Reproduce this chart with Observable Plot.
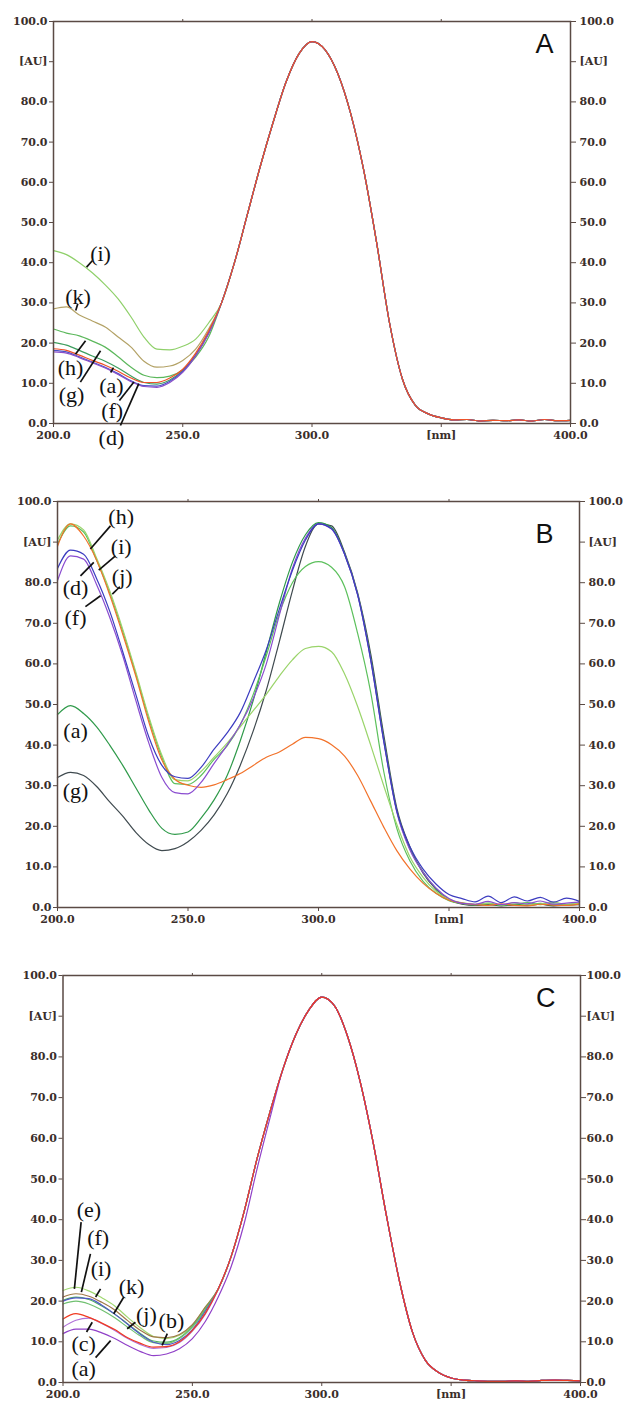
<!DOCTYPE html>
<html><head><meta charset="utf-8">
<script src="https://cdn.jsdelivr.net/npm/d3@7"></script>
<script src="https://cdn.jsdelivr.net/npm/@observablehq/plot@0.6"></script>
<style>
body{margin:0;background:#fff;}
#wrap{position:relative;width:625px;height:1405px;overflow:hidden;background:#fff;}
.panel{position:absolute;left:0;}
</style></head><body><div id="wrap"></div>
<script>
// ---------- shared axes ----------
const wavelengths = [200,205,210,215,220,225,230,235,240,245,250,255,260,265,270,275,280,285,290,295,300,305,310,315,320,325,330,335,340,345,350,355,360,365,370,375,380,385,390,395,400];
const yTicks = [0,10,20,30,40,50,60,70,80,90,100];
const xTicks = [200,250,300,350,400];
const topTicks = [250,300,350];

// ---------- Panel A (heads 200-260, shared peak 265-400) ----------
const A_peak = [30,40,52,64,75,85,92,95,93,87,77,63,45,25,11,4.5,2.4,1.4,0.9,1.0,0.6,0.8,0.7,0.9,0.6,1.0,0.7,0.8];
const A_i = [43,42,40,37.5,34.5,31,26.5,21.5,18.5,18.3,19.2,21,25];
const A_k = [28.5,29,27,25.5,24,21.5,19,15.5,14,14.3,15.7,18.5,23.5];
const A_h = [23.5,22.5,21.8,20.5,19,16.6,14,12,11.4,11.8,13.3,16.5,21.5];
const A_g = [20.2,19.5,18.2,16.8,15.5,13.8,11.8,10.2,9.8,10.8,13.2,17,22.5];
const A_a = [18.6,18.2,17,15.7,14.5,13,11.3,10.2,10.2,11.3,13.5,17.5,23];
const A_f = [18.2,17.8,16.6,15.3,14,12.4,10.6,9.4,9.3,10.5,13,17,22.5];
const A_d = [17.8,17.5,16.4,15.1,13.8,12.2,10.4,9.2,9.0,10.2,12.7,16.8,22.3];

// ---------- Panel B (full spectra 200-400) ----------
const B_h = [89,94.5,91.5,85.5,77,67.3,57,45.7,36.3,31.6,30.1,29.6,30.2,31.5,33,35,37,38.3,40.2,41.9,41.6,40.1,37.3,32.5,26.2,19.8,14,9.5,6,3.5,1.8,1.1,0.7,0.5,0.9,0.5,0.4,0.8,0.6,0.5,0.9];
const B_i = [90.5,94.5,93,86,78,68.5,58,47,37.5,31.5,31.2,33.5,37,40.5,44.5,48.5,52.5,57,61,63.8,64.3,63,57.5,49.5,40,30,20.5,12.5,7.5,4,2,1.2,0.8,1.0,0.6,1.2,0.7,0.9,1.3,0.8,1.0];
const B_j = [89.5,94,92.5,85.5,77.5,68,57.5,46.5,37,30.5,30.3,32.5,36.5,39.8,45,52.5,62,72.5,80,84,85.2,83.8,79,67.5,53,33.5,19.5,11.5,6.5,3.5,1.7,1.0,0.7,1.1,0.6,0.8,1.2,0.7,0.9,0.6,0.8];
const B_d = [83.5,88,87,81,73,63,52.5,42,35,32.2,31.8,34.5,39,43,48,55.5,63.5,73.5,83,90.5,94.5,93.3,87,77,61,41,23.8,15,9.5,5.8,3.2,2.2,1.4,2.8,1.2,2.6,1.6,2.5,1.3,2.3,1.5];
const B_f = [80.5,86.6,85.8,79.5,71.5,62,51,40.5,32,28.3,28,30.8,35.5,40,45,51.5,60,72,83.5,91,94.5,93.2,87,77,61,41,23.5,14.2,8.7,4.8,2.2,1.0,0.8,1.5,0.7,1.2,0.9,1.6,0.8,1.1,1.3];
const B_a = [47.5,49.7,47.8,44.5,40,35,29.5,24,19.5,18,18.6,22,26.5,32.5,41,51,63,75,85,91.8,94.8,93.6,87.2,77.2,61.5,41.5,23.8,14.5,8.8,4.6,1.8,1.0,0.6,0.9,0.5,0.8,0.6,1.0,0.5,0.7,0.9];
const B_g = [32,33.3,32.5,29.8,26,22.5,18.5,15.5,14,14.5,16.2,19,22.8,28,35,43.5,53.5,65.5,78,89,94.5,94,87.5,77.5,62.5,42.5,24.5,15,8.5,4.5,2,0.8,0.5,0.7,0.4,0.6,0.5,0.8,0.4,0.6,0.7];

// ---------- Panel C (heads 200-255, shared peak 260-400) ----------
const C_peak = [23,31,42,55,66.5,77,85.5,91.5,94.7,92.5,85,73.5,58.5,41,25,12.5,5.5,2.5,1.1,0.6,0.4,0.3,0.3,0.4,0.3,0.5,0.6,0.5,0.4];
const C_e = [22.6,23.4,22.5,20.8,18.8,16,13.4,11.3,10.8,11.6,14,18.5];
const C_f = [21,21.8,21.2,19.7,17.8,15.2,12.8,11.2,11,11.8,14.2,18.5];
const C_i = [20.2,21,20.4,18.8,16.8,14.4,12,10.2,9.9,11,13.8,18];
const C_k = [19.3,20,19.3,17.8,15.9,13.6,11.4,9.8,9.6,10.8,13.6,17.8];
const C_j = [20,20.8,20.6,19,16.8,14.3,11.8,9.9,9.3,10.3,13,17.5];
const C_b = [15.6,16.9,16,14.6,13,11,9.6,8.7,8.8,10,12.8,17];
const C_c = [13.6,15.3,15.8,14.5,12.8,10.8,9.3,8.4,8.6,9.8,12.6,16.8];
const C_a = [12,13.1,13.1,12.2,10.8,9.1,7.6,6.6,7,8.3,10.8,15,21,28.5,39,52.5,65];

// ---------- annotations (data units) ----------
const notesA = [
  {label:"(i)", nm:218.2, v:42.3},{label:"(k)", nm:209.5, v:31.4},{label:"(h)", nm:206.6, v:13.7},
  {label:"(g)", nm:207.0, v:7.0},{label:"(a)", nm:222.4, v:9.4},{label:"(f)", nm:222.7, v:3.0},{label:"(d)", nm:222.4, v:-3.5}];
const leadersA = [
  {x1:215.0,y1:40.5,x2:212.8,y2:38.9},{x1:209.4,y1:29.8,x2:208.6,y2:28.1},{x1:208.5,y1:17.2,x2:212.4,y2:20.6},
  {x1:210.4,y1:10.3,x2:218.2,y2:18.1},{x1:222.1,y1:12.7,x2:223.2,y2:13.9},{x1:225.5,y1:5.7,x2:231.1,y2:10.3},
  {x1:225.9,y1:-0.5,x2:233.0,y2:9.9}];
const notesB = [
  {label:"(h)", nm:224.4, v:96.1},{label:"(i)", nm:224.4, v:88.7},{label:"(j)", nm:224.8, v:81.3},
  {label:"(d)", nm:206.9, v:78.8},{label:"(f)", nm:206.9, v:71.4},{label:"(a)", nm:206.9, v:43.6},{label:"(g)", nm:206.9, v:28.8}];
const leadersB = [
  {x1:220.3,y1:94.0,x2:212.6,y2:88.3},{x1:222.2,y1:86.6,x2:215.8,y2:83.1},{x1:223.9,y1:79.0,x2:221.0,y2:77.2},
  {x1:208.8,y1:81.7,x2:213.9,y2:85.0},{x1:210.7,y1:74.1,x2:216.5,y2:76.8}];
const notesC = [
  {label:"(e)", nm:210.0, v:42.3},{label:"(f)", nm:213.6, v:35.4},{label:"(i)", nm:214.7, v:28.0},
  {label:"(k)", nm:226.5, v:23.4},{label:"(j)", nm:232.2, v:16.5},{label:"(b)", nm:241.9, v:15.2},
  {label:"(c)", nm:208.0, v:9.5},{label:"(a)", nm:208.0, v:3.4}];
const leadersC = [
  {x1:207.0,y1:39.4,x2:204.4,y2:23.0},{x1:210.6,y1:31.6,x2:207.1,y2:22.2},{x1:214.5,y1:23.0,x2:212.6,y2:21.0},
  {x1:223.5,y1:21.0,x2:219.6,y2:16.9},{x1:228.0,y1:14.8,x2:224.8,y2:13.2},{x1:240.3,y1:12.0,x2:238.3,y2:9.1},
  {x1:209.1,y1:12.4,x2:211.3,y2:14.8},{x1:212.6,y1:6.1,x2:218.4,y2:10.3}];

// ---------- styles ----------
const frameColor = "#5a4a44";
const textColor = "#3a2e2a";
const colorsA = {i:"#8fd06a", k:"#b3a266", h:"#5cb85c", g:"#3e9e5e", f:"#4a52c8", d:"#8a4fc8", a:"#ee5228"};
const colorsB = {g:"#3f4a4f", a:"#2f9a4a", j:"#5cc05c", i:"#9ad46a", h:"#f2722a", f:"#8a4cd0", d:"#3c3cc0"};
const colorsC = {e:"#a0d870", f:"#a07848", i:"#50b060", k:"#70c070", j:"#5058c8", c:"#b070d8", a:"#9040c8", b:"#f03a20"};

const joinSeries = (head, tail, tailStartIndex) => head.concat(tail.slice(head.length - tailStartIndex));

const seriesA = {i:joinSeries(A_i,A_peak,13), k:joinSeries(A_k,A_peak,13), h:joinSeries(A_h,A_peak,13), g:joinSeries(A_g,A_peak,13),
  f:joinSeries(A_f,A_peak,13), d:joinSeries(A_d,A_peak,13), a:joinSeries(A_a,A_peak,13)};
const seriesB = {g:B_g, a:B_a, j:B_j, i:B_i, h:B_h, f:B_f, d:B_d};
const seriesC = {e:joinSeries(C_e,C_peak,12), f:joinSeries(C_f,C_peak,12), i:joinSeries(C_i,C_peak,12), k:joinSeries(C_k,C_peak,12),
  j:joinSeries(C_j,C_peak,12), c:joinSeries(C_c,C_peak,12), a:joinSeries(C_a,C_peak,12), b:joinSeries(C_b,C_peak,12)};

const fmtY = d => d === 90 ? "[AU]" : d.toFixed(1);
const fmtX = d => d === 350 ? "[nm]" : d.toFixed(1);

function panel(cfg) {
  const lineMarks = Object.keys(cfg.series).map(id =>
    Plot.line(cfg.series[id].map((v, i) => ({nm: wavelengths[i], v})),
      {x: "nm", y: "v", stroke: cfg.colors[id], strokeWidth: 1.2, curve: "monotone-x"}));
  const axisText = {fill: textColor, stroke: frameColor, fontWeight: "bold", fontSize: 11, label: null};
  const svg = Plot.plot({
    width: 625, height: cfg.height,
    marginTop: cfg.m[0], marginRight: cfg.m[1], marginBottom: cfg.m[2], marginLeft: cfg.m[3],
    x: {domain: [200, 400]}, y: {domain: [0, 100]},
    style: {fontFamily: "DejaVu Serif", background: "transparent", overflow: "visible"},
    marks: [
      Plot.axisY({anchor: "left", ticks: yTicks, tickFormat: fmtY, tickSize: 4, tickPadding: 2, ...axisText}),
      Plot.axisY({anchor: "right", ticks: yTicks, tickFormat: fmtY, tickSize: 5, tickPadding: cfg.rightPad, ...axisText}),
      Plot.axisX({anchor: "bottom", ticks: xTicks, tickFormat: fmtX, tickSize: 4, tickPadding: 4, ...axisText}),
      Plot.axisX({anchor: "top", ticks: topTicks, tickFormat: () => "", tickSize: 3, stroke: frameColor, label: null}),
      ...lineMarks,
      Plot.frame({stroke: frameColor, strokeWidth: 1.5}),
      Plot.link(cfg.leaders, {x1: "x1", y1: "y1", x2: "x2", y2: "y2", stroke: "#111", strokeWidth: 1.7}),
      Plot.text(cfg.notes, {x: "nm", y: "v", text: "label", fontFamily: "Liberation Serif", fontSize: 22, fill: "#111"}),
      Plot.text([cfg.letter], {frameAnchor: "top-right", dx: cfg.letterDx, dy: cfg.letterDy, fontFamily: "Liberation Sans", fontSize: 27, fill: "#111"})
    ]
  });
  const div = document.createElement("div");
  div.className = "panel";
  div.style.top = cfg.top + "px";
  div.appendChild(svg);
  document.getElementById("wrap").appendChild(div);
}

panel({letter: "A", series: seriesA, colors: colorsA, notes: notesA, leaders: leadersA,
  top: 0, height: 465, m: [21, 55, 42, 53], letterDx: -17, letterDy: 12, rightPad: 4});
panel({letter: "B", series: seriesB, colors: colorsB, notes: notesB, leaders: leadersB,
  top: 470, height: 470, m: [31, 46, 33, 57], letterDx: -26, letterDy: 22, rightPad: 4});
panel({letter: "C", series: seriesC, colors: colorsC, notes: notesC, leaders: leadersC,
  top: 940, height: 465, m: [35, 45, 23, 62.5], letterDx: -25, letterDy: 12, rightPad: 1});
</script></body></html>
